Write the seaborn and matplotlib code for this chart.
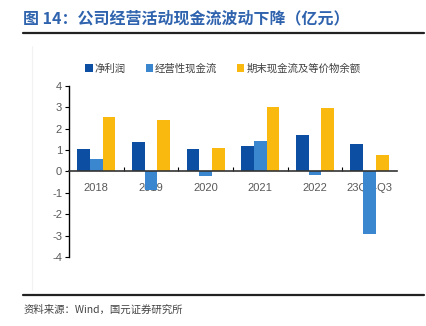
import matplotlib
matplotlib.use("Agg")
import matplotlib.pyplot as plt
import seaborn as sns
import pandas as pd
import numpy as np

categories = ["2018", "2019", "2020", "2021", "2022", "23Q1-Q3"]
net_profit = [1.03, 1.37, 1.04, 1.20, 1.72, 1.31]
operating_cf = [0.58, -0.85, -0.20, 1.41, -0.15, -2.92]
ending_cash = [2.53, 2.39, 1.12, 3.00, 2.98, 0.78]
series_names = ["净利润", "经营性现金流", "期末现金流及等价物余额"]
y_ticks = [-4, -3, -2, -1, 0, 1, 2, 3, 4]

colors = ["#0B4EA2", "#3A87D0", "#F9B90F"]

sns.set_theme(style="white")
plt.rcParams["font.family"] = ["Liberation Sans", "Noto Sans CJK SC", "DejaVu Sans"]
plt.rcParams["axes.unicode_minus"] = False

df = pd.DataFrame({
    "cat": categories * 3,
    "series": sum([[s] * len(categories) for s in series_names], []),
    "value": net_profit + operating_cf + ending_cash,
})

fig = plt.figure(figsize=(4.27, 3.26), dpi=100)
ax = fig.add_axes([0.1616, 0.212, 0.768, 0.524])

sns.barplot(data=df, x="cat", y="value", hue="series", palette=colors,
            width=0.7, ax=ax, legend=False, linewidth=0, saturation=1)

ax.set_ylim(-4, 4)
ax.set_xlim(-0.5, len(categories) - 0.5)
ax.set_yticks(y_ticks)
ax.set_yticklabels([str(t) for t in y_ticks])
ax.set_xlabel("")
ax.set_ylabel("")

for s in ["top", "right"]:
    ax.spines[s].set_visible(False)
ax.spines["bottom"].set_position(("data", 0))
ax.spines["bottom"].set_color("#333333")
ax.spines["bottom"].set_linewidth(1.2)
ax.spines["left"].set_color("#000000")
ax.spines["left"].set_linewidth(1.0)

ax.tick_params(axis="y", direction="out", length=3, width=0.8, color="#000000",
               labelsize=8, labelcolor="#595959", pad=2, left=True)
ax.tick_params(axis="x", which="major", length=0, labelsize=8, labelcolor="#595959", pad=8)
ax.set_xticks(np.arange(0.5, len(categories) - 0.5, 1.0), minor=True)
ax.tick_params(axis="x", which="minor", direction="in", length=3, width=0.8,
               color="#000000", bottom=True)
ax.set_zorder(2)

# legend
from matplotlib.patches import Patch
handles = [Patch(facecolor=c, edgecolor="none") for c in colors]
fig.legend(handles, series_names, loc="center", bbox_to_anchor=(0.522, 0.79),
           ncol=3, frameon=False, handlelength=0.7, handleheight=0.7,
           handletextpad=0.2, columnspacing=1.9,
           prop={"family": ["Noto Sans CJK SC"], "size": 7.5})
for t in fig.legends[0].get_texts():
    t.set_color("#404040")

# title
fig.text(0.054, 0.945, "图 14：公司经营活动现金流波动下降（亿元）", ha="left", va="center",
         fontsize=11.5, fontweight="bold", color="#2F63AE",
         family=["Noto Sans CJK SC", "DejaVu Sans"])
fig.add_artist(plt.Line2D([0.054, 0.993], [0.899, 0.899], color="#222222", lw=1.6))
fig.add_artist(plt.Line2D([0.054, 0.993], [0.095, 0.095], color="#222222", lw=1.6))
fig.text(0.054, 0.049, "资料来源：Wind，国元证券研究所", ha="left", va="center",
         fontsize=7.5, color="#444444", family=["Noto Sans CJK SC", "DejaVu Sans"])

# faint panel border
fig.add_artist(plt.Line2D([0.075, 0.075], [0.11, 0.86], color="#F2F2F2", lw=0.8))

fig.savefig("out.png", dpi=100)
